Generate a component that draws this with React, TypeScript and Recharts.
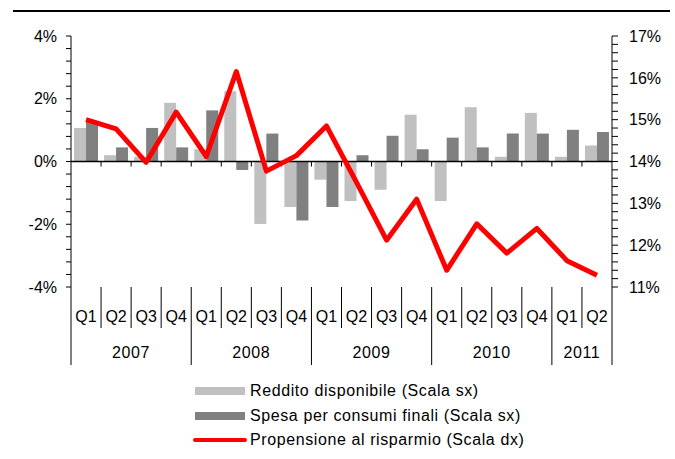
import { Bar, ComposedChart, Line, ReferenceLine, XAxis, YAxis } from "recharts"

const quarters = ["Q1", "Q2", "Q3", "Q4", "Q1", "Q2", "Q3", "Q4", "Q1", "Q2", "Q3", "Q4", "Q1", "Q2", "Q3", "Q4", "Q1", "Q2"]
const years = ["2007", "2007", "2007", "2007", "2008", "2008", "2008", "2008", "2009", "2009", "2009", "2009", "2010", "2010", "2010", "2010", "2011", "2011"]
const reddito = [1.07, 0.2, 0.15, 1.87, 0.39, 2.24, -1.99, -1.45, -0.58, -1.26, -0.9, 1.49, -1.26, 1.73, 0.15, 1.55, 0.15, 0.51]
const spesa = [1.27, 0.45, 1.07, 0.45, 1.63, -0.27, 0.89, -1.88, -1.45, 0.2, 0.82, 0.39, 0.76, 0.45, 0.89, 0.89, 1.01, 0.94]
const propensione = [15.0, 14.78, 13.98, 15.18, 14.12, 16.15, 13.77, 14.14, 14.85, 13.5, 12.12, 13.1, 11.4, 12.51, 11.81, 12.4, 11.63, 11.28]

const leftTicks = Array.from({ length: 21 }, (_, i) => Math.round((-4 + i * 0.4) * 10) / 10)
const rightTicks = Array.from({ length: 31 }, (_, i) => Math.round((11 + i * 0.2) * 10) / 10)

const data = quarters.map((q, i) => ({
  key: `${years[i]}-${q}`,
  quarter: q,
  year: years[i],
  reddito: reddito[i],
  spesa: spesa[i],
  propensione: propensione[i],
}))

const FONT = "'Liberation Sans', Arial, sans-serif"
const W = 675
const H = 459
const LEFT_W = 71
const RIGHT_W = 63
const BAND = (W - LEFT_W - RIGHT_W) / quarters.length

function QuarterTick(props: any) {
  const { x, y, payload } = props
  const i = props.index ?? payload.index
  const left = x - BAND / 2
  const right = x + BAND / 2
  const yearStart = quarters[i] === "Q1"
  const n = years.filter((yr) => yr === years[i]).length
  const last = i === quarters.length - 1
  return (
    <g>
      <line x1={left} x2={left} y1={y} y2={y + (yearStart ? 78 : 41)} stroke="#000" strokeWidth={1} />
      {last && <line x1={right} x2={right} y1={y} y2={y + 78} stroke="#000" strokeWidth={1} />}
      <text x={x} y={y + 35} textAnchor="middle" fontSize={16} fontFamily={FONT} fill="#000">
        {payload.value}
      </text>
      {yearStart && (
        <text
          x={left + (n * BAND) / 2}
          y={y + 71}
          textAnchor="middle"
          fontSize={16}
          fontFamily={FONT}
          letterSpacing={0.6}
          fill="#000"
        >
          {years[i]}
        </text>
      )}
    </g>
  )
}

function ZeroLine(props: any) {
  const { x1, x2, y1 } = props
  if (x1 == null || y1 == null) return null
  const marks = Array.from({ length: quarters.length - 1 }, (_, i) => x1 + (i + 1) * BAND)
  return (
    <g>
      <line x1={x1} x2={x2} y1={y1} y2={y1} stroke="#000" strokeWidth={1.5} />
      {marks.map((mx) => (
        <line key={mx} x1={mx} x2={mx} y1={y1} y2={y1 + 5} stroke="#000" strokeWidth={1} />
      ))}
    </g>
  )
}

const legendItems = [
  { label: "Reddito disponibile (Scala sx)", color: "#c0c0c0", kind: "bar" },
  { label: "Spesa per consumi finali (Scala sx)", color: "#808080", kind: "bar" },
  { label: "Propensione al risparmio (Scala dx)", color: "#ff0000", kind: "line" },
]

export default function App() {
  return (
    <div style={{ position: "absolute", left: 0, top: 0, width: W, height: H, background: "#fff" }}>
      <div style={{ position: "absolute", left: 13, top: 10, width: 657, height: 2, background: "#000" }} />
      <ComposedChart
        width={W}
        height={H}
        data={data}
        margin={{ top: 36, right: 0, bottom: 92, left: 0 }}
        barCategoryGap="10%"
        barGap={0}
      >
        <XAxis
          dataKey="quarter"
          xAxisId={0}
          axisLine={false}
          tickLine={false}
          tickSize={0}
          tickMargin={0}
          interval={0}
          height={80}
          tick={<QuarterTick />}
        />
        <YAxis
          yAxisId="left"
          width={LEFT_W}
          domain={[-4, 4]}
          ticks={leftTicks}
          interval={0}
          tickSize={5}
          tickMargin={9}
          axisLine={{ stroke: "#000" }}
          tickLine={{ stroke: "#000" }}
          tick={{ fontSize: 16, fontFamily: FONT, fill: "#000" }}
          tickFormatter={(v: number) => (Math.abs(v / 2 - Math.round(v / 2)) < 1e-6 ? `${Math.round(v)}%` : "")}
        />
        <YAxis
          yAxisId="right"
          orientation="right"
          width={RIGHT_W}
          domain={[11, 17]}
          ticks={rightTicks}
          interval={0}
          tickSize={6}
          tickMargin={11}
          axisLine={{ stroke: "#000" }}
          tickLine={{ stroke: "#000" }}
          tick={{ fontSize: 16, fontFamily: FONT, fill: "#000", textAnchor: "start" }}
          tickFormatter={(v: number) => (Math.abs(v - Math.round(v)) < 1e-6 ? `${Math.round(v)}%` : "")}
        />
        <Bar yAxisId="left" dataKey="reddito" fill="#c0c0c0" isAnimationActive={false} />
        <Bar yAxisId="left" dataKey="spesa" fill="#808080" isAnimationActive={false} />
        <ReferenceLine yAxisId="left" y={0} shape={<ZeroLine />} />
        <Line
          yAxisId="right"
          dataKey="propensione"
          type="linear"
          stroke="#ff0000"
          strokeWidth={5}
          strokeLinejoin="round"
          dot={false}
          activeDot={false}
          isAnimationActive={false}
        />
      </ComposedChart>
      <div
        style={{
          position: "absolute",
          left: 193,
          top: 379,
          fontFamily: FONT,
          fontSize: 16,
          letterSpacing: 0.6,
          color: "#000",
        }}
      >
        {legendItems.map((item) => (
          <div key={item.label} style={{ display: "flex", alignItems: "center", height: 24.5, whiteSpace: "nowrap" }}>
            {item.kind === "bar" ? (
              <div style={{ width: 50, height: 8, background: item.color, marginLeft: 2 }} />
            ) : (
              <div style={{ width: 54, height: 4, background: item.color, borderRadius: 2 }} />
            )}
            <span style={{ marginLeft: item.kind === "bar" ? 5 : 3 }}>{item.label}</span>
          </div>
        ))}
      </div>
    </div>
  )
}
